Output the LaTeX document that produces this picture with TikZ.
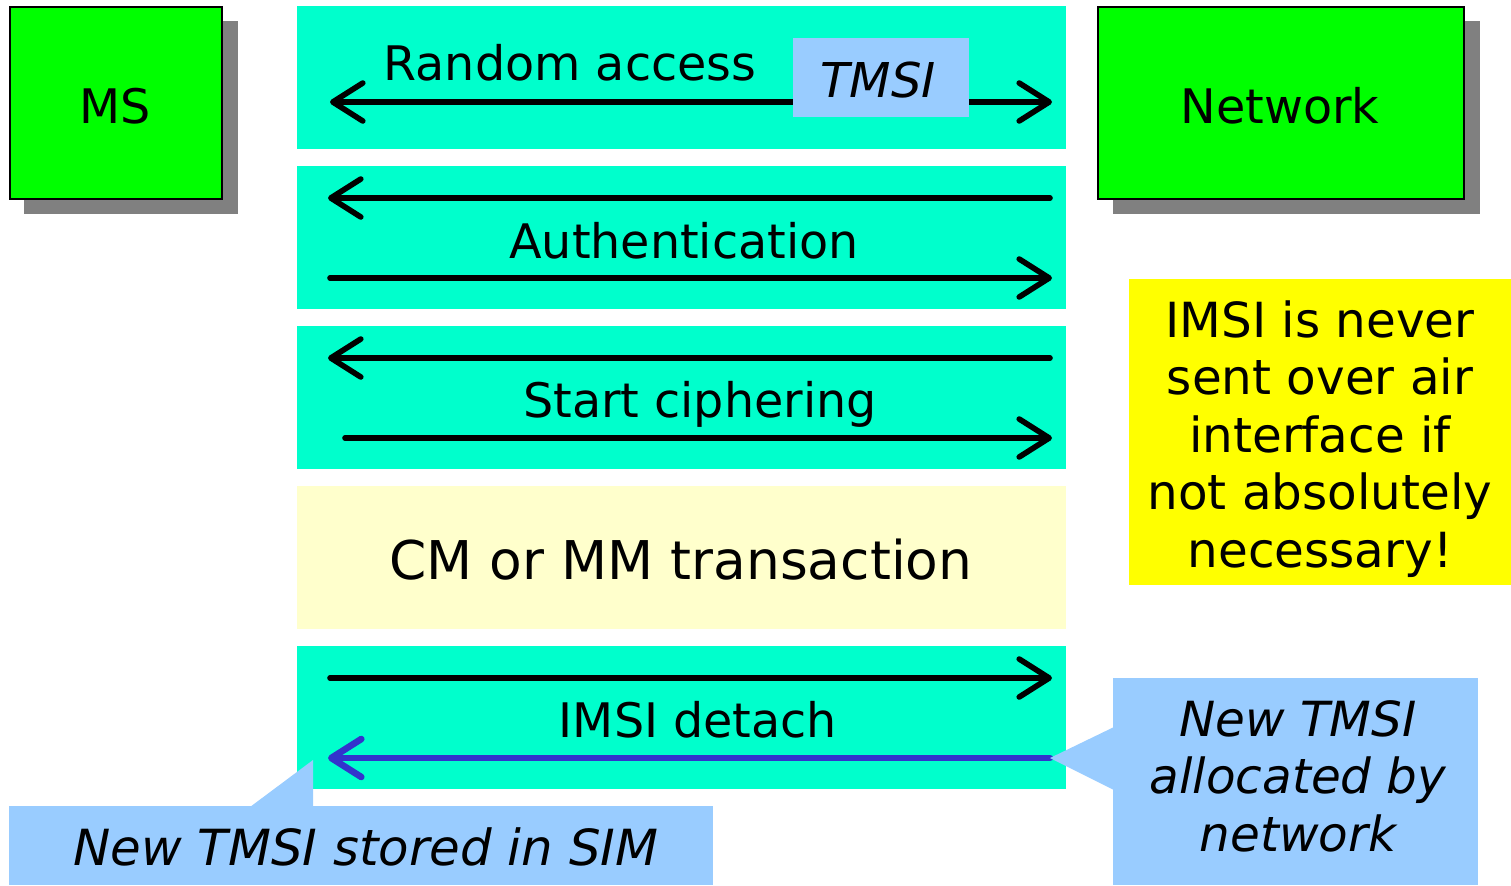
\documentclass[tikz,border=0pt]{standalone}
\usepackage{fontspec}
\setmainfont{DejaVu Sans}
\usetikzlibrary{arrows.meta}
\definecolor{bandcyan}{HTML}{00FFCC}
\definecolor{callblue}{HTML}{99CCFF}
\definecolor{boxgreen}{HTML}{00FF00}
\definecolor{noteyellow}{HTML}{FFFF00}
\definecolor{paleyellow}{HTML}{FFFFCC}
\definecolor{shadowgray}{HTML}{808080}
\definecolor{msgblue}{HTML}{3333CC}
\tikzset{
  band/.style={fill=bandcyan, draw=none, anchor=north west, inner sep=0pt, minimum width=384.5pt, minimum height=71.5pt},
  entity/.style={fill=boxgreen, draw=black, line width=1pt, anchor=north west, inner sep=0pt},
  shade/.style={fill=shadowgray, draw=none, anchor=north west, inner sep=0pt},
  lbl/.style={anchor=base, inner sep=0pt, font=\fontsize{23.8}{28}\selectfont},
  itlbl/.style={anchor=base, inner sep=0pt, font=\fontsize{24}{28.75}\selectfont\itshape},
  msg/.style={line width=2.8pt, line cap=round, -{Straight Barb[length=15pt, width=19pt, line cap=round, line join=round]}},
  callout/.style={fill=callblue, draw=none},
}
\begin{document}
\begin{tikzpicture}[x=0.5pt, y=-0.5pt]
\useasboundingbox (0,0) rectangle (1511,885);

% entities with shadows
\node[shade, minimum width=107pt, minimum height=96.5pt] (msshadow) at (24,21) {};
\node[entity, minimum width=106pt, minimum height=96pt] (ms) at (9,6) {};
\node[lbl] (mstext) at (115,123) {MS};
\node[shade, minimum width=183.5pt, minimum height=96.5pt] (netshadow) at (1113,21) {};
\node[entity, minimum width=183pt, minimum height=96pt] (net) at (1097,6) {};
\node[lbl] (nettext) at (1280,123) {Network};

% bands
\node[band] (b1) at (297,6) {};
\node[band] (b2) at (297,166) {};
\node[band] (b3) at (297,326) {};
\node[band, fill=paleyellow] (b4) at (297,486) {};
\node[band] (b5) at (297,646) {};

% band 1: random access
\coordinate (r1l) at (330,102);
\coordinate (r1r) at (1052,102);
\draw[msg, {Straight Barb[length=15pt, width=19pt, line cap=round, line join=round]}-{Straight Barb[length=15pt, width=19pt, line cap=round, line join=round]}] (r1l) -- (r1r);
\node[lbl] (ratext) at (570,80) {Random access};
\node[fill=callblue, inner sep=0pt, minimum width=88pt, minimum height=39.5pt, anchor=north west] (tmsi) at (793,38) {};
\node[itlbl] (tmsitext) at (878,97) {TMSI};

% band 2: authentication
\coordinate (a1s) at (1050,198);
\coordinate (a1e) at (328,198);
\coordinate (a2s) at (330,278);
\coordinate (a2e) at (1052,278);
\draw[msg] (a1s) -- (a1e);
\draw[msg] (a2s) -- (a2e);
\node[lbl] (authtext) at (684,258) {Authentication};

% band 3: start ciphering
\coordinate (c1s) at (1050,358);
\coordinate (c1e) at (328,358);
\coordinate (c2s) at (345,438);
\coordinate (c2e) at (1052,438);
\draw[msg] (c1s) -- (c1e);
\draw[msg] (c2s) -- (c2e);
\node[lbl] (ciphtext) at (700,417) {Start ciphering};

% band 4
\node[lbl, font=\fontsize{26.7}{32}\selectfont] (cmtext) at (681,579) {CM or MM transaction};

% band 5: IMSI detach
\coordinate (d1s) at (330,678);
\coordinate (d1e) at (1052,678);
\coordinate (d2s) at (1050,758);
\coordinate (d2e) at (328,758);
\draw[msg] (d1s) -- (d1e);
\draw[msg, msgblue, line width=3.3pt] (d2s) -- (d2e);
\node[lbl] (detachtext) at (698,737) {IMSI detach};

% note
\node[fill=noteyellow, inner sep=0pt, minimum width=191pt, minimum height=153pt, anchor=north west] (note) at (1129,279) {};
\node[align=center, inner sep=0pt, font=\fontsize{24.2}{28.75}\selectfont] (notetext) at (1320,439) {IMSI is never\\sent over air\\interface if\\not absolutely\\necessary!};

% callout right
\node[callout, inner sep=0pt, minimum width=182.5pt, minimum height=103.5pt, anchor=north west] (cr) at (1113,678) {};
\coordinate (crtip) at (1050,758);
\fill[callblue] (1114,727) -- (crtip) -- (1114,790) -- cycle;
\node[align=center, inner sep=0pt, font=\fontsize{24.2}{28.75}\selectfont\itshape] (crtext) at (1298,776) {New TMSI\\allocated by\\network};

% callout left
\node[callout, inner sep=0pt, minimum width=352pt, minimum height=39.5pt, anchor=north west] (cl) at (9,806) {};
\coordinate (cltip) at (313,760);
\fill[callblue] (250,807) -- (cltip) -- (313,807) -- cycle;
\node[itlbl, font=\fontsize{24.9}{28.75}\selectfont\itshape] (cltext) at (366,865) {New TMSI stored in SIM};
\end{tikzpicture}
\end{document}
